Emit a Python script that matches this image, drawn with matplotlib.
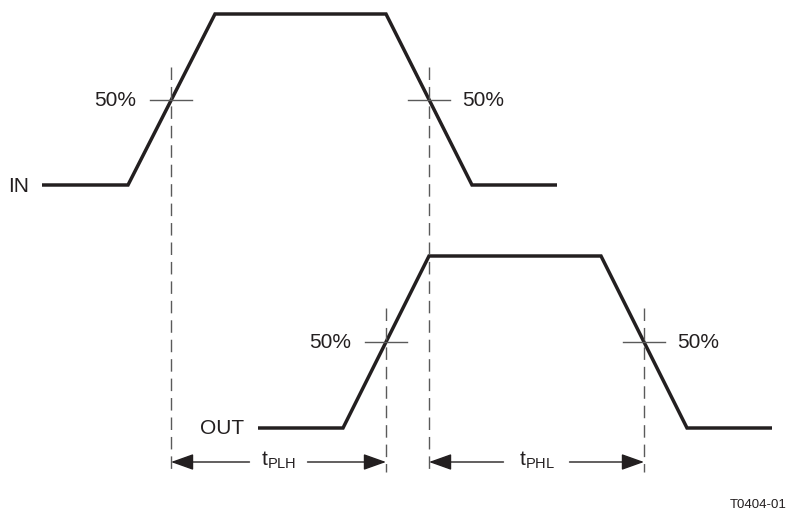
import matplotlib
matplotlib.use("Agg")
import matplotlib.pyplot as plt

plt.rcParams['font.family'] = ['Liberation Sans', 'DejaVu Sans']
plt.rcParams['mathtext.fontset'] = 'custom'
plt.rcParams['mathtext.rm'] = 'Liberation Sans'

# Waveforms (pixel coordinates of the diagram)
in_x = [42, 128, 215, 386, 472, 557]
in_y = [185, 185, 14, 14, 185, 185]
out_x = [258, 343, 429, 601, 687, 772]
out_y = [428, 428, 256, 256, 428, 428]

# 50% crossing points
cross_x = [171, 429, 386, 644]
cross_y = [100, 100, 342, 342]
dash_top = [67, 67, 308, 308]
dash_bottom = 472

pct_labels = ["50%", "50%", "50%", "50%"]
pct_pos = [(136, 101, 'right'), (462, 101, 'left'), (351, 343, 'right'), (677, 343, 'left')]

arrow_y = 462
intervals = [(171, 386, 't$_{\\mathregular{PLH}}$', 29), (429, 644, 't$_{\\mathregular{PHL}}$', 33)]

black = '#231f20'
gray = '#5a5a5a'

fig = plt.figure(figsize=(7.89, 5.2), dpi=100)
ax = fig.add_axes([0, 0, 1, 1])
ax.set_xlim(0, 789)
ax.set_ylim(520, 0)
ax.axis('off')

ax.plot(in_x, in_y, color=black, lw=2.5, solid_joinstyle='miter', solid_capstyle='butt')
ax.plot(out_x, out_y, color=black, lw=2.5, solid_joinstyle='miter', solid_capstyle='butt')

for cx, cy, top in zip(cross_x, cross_y, dash_top):
    ax.plot([cx, cx], [top, dash_bottom], color=gray, lw=1.0, dashes=(9, 5))
    ax.plot([cx - 21, cx + 21], [cy, cy], color=gray, lw=1.0)

for lab, (px, py, ha) in zip(pct_labels, pct_pos):
    ax.text(px, py, lab, ha=ha, va='center', fontsize=15, color=black)

ax.text(29, 187, "IN", ha='right', va='center', fontsize=15, color=black)
ax.text(244, 429, "OUT", ha='right', va='center', fontsize=15, color=black)
ax.text(787, 505, "T0404-01", ha='right', va='center', fontsize=9.5, color=black)

for x0, x1, lab, gap in intervals:
    mid = (x0 + x1) / 2
    ax.text(mid, arrow_y - 2, lab, ha='center', va='center', fontsize=15, color=black)
    props = dict(arrowstyle='-|>,head_length=1.4,head_width=0.5', lw=1.0, color=black,
                 shrinkA=0, shrinkB=0)
    ax.annotate('', xy=(x0, arrow_y), xytext=(mid - gap, arrow_y), arrowprops=props)
    ax.annotate('', xy=(x1, arrow_y), xytext=(mid + gap, arrow_y), arrowprops=props)

fig.savefig("out.png", dpi=100)
